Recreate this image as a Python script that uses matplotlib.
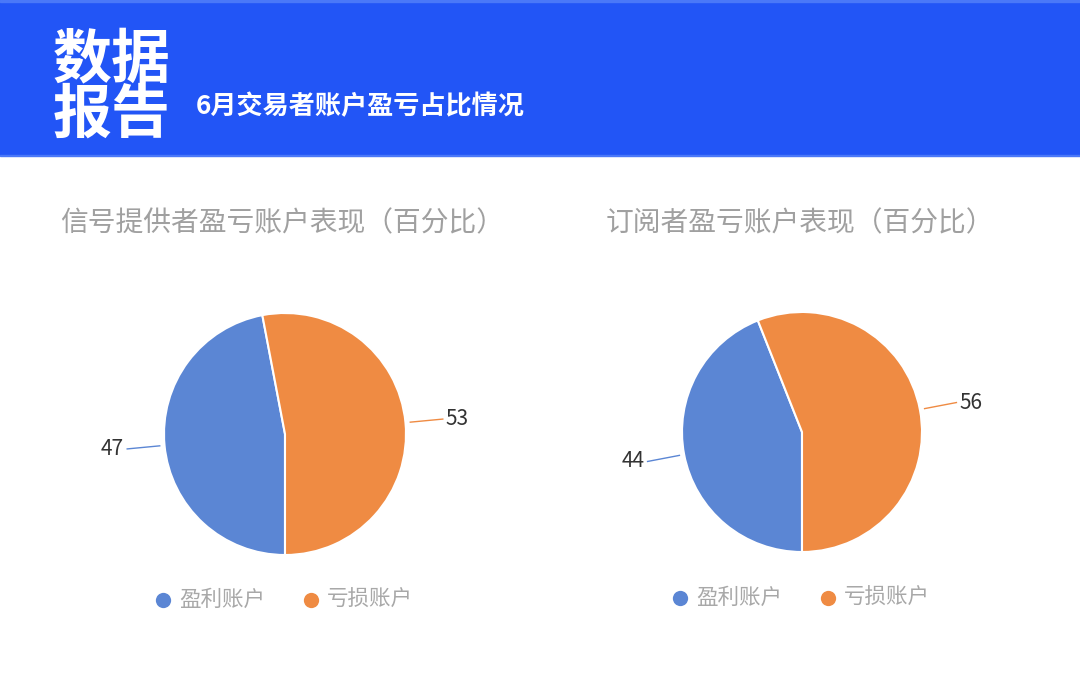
import matplotlib
matplotlib.use("Agg")
import matplotlib.pyplot as plt
from matplotlib.patches import Rectangle
import numpy as np

plt.rcParams['font.family'] = ['Noto Sans CJK SC', 'DejaVu Sans']

# -----------------------------
# data
# -----------------------------
categories = ["盈利账户", "亏损账户"]
provider_values = [47, 53]
subscriber_values = [44, 56]
chart_titles = ["信号提供者盈亏账户表现（百分比）", "订阅者盈亏账户表现（百分比）"]
header_title = ["数据", "报告"]
header_subtitle = "6月交易者账户盈亏占比情况"

colors = ["#5b86d4", "#ef8b43"]
header_blue = "#2255f6"

W, H = 1080, 680

fig = plt.figure(figsize=(W / 100, H / 100), dpi=100)
ax = fig.add_axes([0, 0, 1, 1])
ax.set_xlim(0, W)
ax.set_ylim(0, H)
ax.set_aspect("equal")
ax.axis("off")

# -----------------------------
# header band
# -----------------------------
ax.add_patch(Rectangle((0, H - 155), W, 155, color=header_blue, zorder=0))
ax.add_patch(Rectangle((0, H - 156), W, 1.5, color="#4a78f8", zorder=0))
ax.add_patch(Rectangle((0, H - 1.5), W, 1.5, color="#4a78f8", zorder=0))
ax.text(53, H - 60, header_title[0], color="white", fontsize=42.5, fontweight="heavy",
        ha="left", va="center")
ax.text(53, H - 116, header_title[1], color="white", fontsize=42.5, fontweight="heavy",
        ha="left", va="center")
ax.text(196, H - 107, header_subtitle, color="white", fontsize=18.8, fontweight="bold",
        ha="left", va="center")


# -----------------------------
# pies
# -----------------------------
def draw_pie(values, cx, cy, r, title, title_x, legend_x):
    wedges, _ = ax.pie(values, colors=colors, center=(cx, cy), radius=r,
                       startangle=270, counterclock=False,
                       wedgeprops=dict(edgecolor="white", linewidth=1.5),
                       frame=True)
    for w, v, c in zip(wedges, values, colors):
        mid = np.deg2rad((w.theta1 + w.theta2) / 2)
        x0, y0 = cx + 1.04 * r * np.cos(mid), cy + 1.04 * r * np.sin(mid)
        x1, y1 = cx + 1.31 * r * np.cos(mid), cy + 1.31 * r * np.sin(mid)
        ax.plot([x0, x1], [y0, y1], color=c, lw=1)
        ha = "left" if np.cos(mid) > 0 else "right"
        ax.text(x1 + (3 if ha == "left" else -3), y1, str(v), color="#333333",
                fontsize=15, ha=ha, va="center")

    ax.text(title_x, H - 223, title, color="#a0a0a0", fontsize=20,
            fontweight="light", ha="left", va="center")

    for i, (lab, c) in enumerate(zip(categories, colors)):
        mx = legend_x + i * 148
        ax.plot(mx, cy - 166, "o", color=c, markersize=11, markeredgewidth=0)
        ax.text(mx + 16, cy - 166, lab, color="#a8a8a8", fontsize=15.5,
                ha="left", va="center")


draw_pie(provider_values, 285, H - 434, 121, chart_titles[0], 60, 163)
draw_pie(subscriber_values, 802, H - 432, 120, chart_titles[1], 606, 680)

ax.set_xlim(0, W)
ax.set_ylim(0, H)

fig.savefig("out.png", dpi=100)
